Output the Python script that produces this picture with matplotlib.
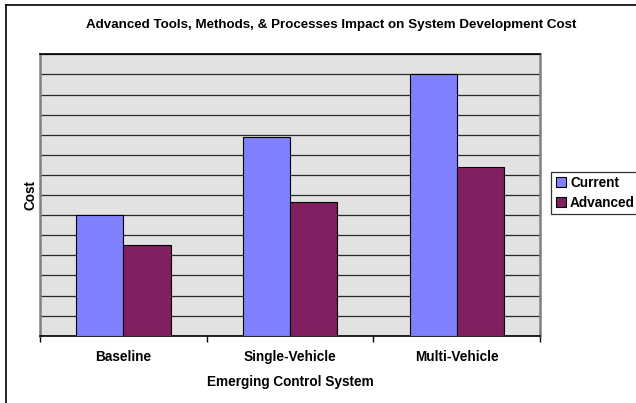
import numpy as np
import matplotlib
matplotlib.use("Agg")
import matplotlib.pyplot as plt
from matplotlib.lines import Line2D

plt.rcParams['font.family'] = ['Liberation Sans', 'DejaVu Sans']

categories = ["Baseline", "Single-Vehicle", "Multi-Vehicle"]
current = [6.0, 9.9, 13.0]
advanced = [4.5, 6.67, 8.4]
series_names = ["Current", "Advanced"]
colors = ["#8080ff", "#802060"]

W, H = 636, 403
fig = plt.figure(figsize=(W / 100, H / 100), dpi=100)
ax = fig.add_axes([40 / W, (H - 335.7) / H, 500 / W, 281.4 / H])

x = np.arange(len(categories))
width = 0.283
ax.bar(x - width / 2, current, width, color=colors[0], edgecolor="black", linewidth=0.8, zorder=3)
ax.bar(x + width / 2, advanced, width, color=colors[1], edgecolor="black", linewidth=0.8, zorder=3)

ax.set_xlim(-0.5, 2.5)
ax.set_ylim(0, 14)
ax.set_facecolor("#e2e2e2")
ax.set_yticks(np.arange(0, 15, 1))
ax.yaxis.grid(True, color="#2a2a2a", linewidth=0.9, zorder=1)
ax.tick_params(axis="y", left=False, labelleft=False)

# category boundaries as ticks, labels in the middle
ax.set_xticks([-0.5, 0.5, 1.5, 2.5])
ax.set_xticklabels([])
ax.set_xticks(x, minor=True)
ax.set_xticklabels(categories, minor=True, fontsize=9.8, fontweight="bold")
ax.tick_params(axis="x", which="major", direction="out", length=4, width=1, color="black")
ax.tick_params(axis="x", which="minor", length=0, pad=10)

for side in ["left", "right"]:
    ax.spines[side].set_color("#808080")
    ax.spines[side].set_linewidth(1.8)
ax.spines["top"].set_linewidth(1.2)
ax.spines["bottom"].set_linewidth(1.2)

ax.set_xlabel("Emerging Control System", fontsize=9.8, fontweight="bold", labelpad=8)
ax.set_ylabel("Cost", fontsize=9.8, fontweight="bold", labelpad=2)

fig.text(331 / W, 1 - 25 / H, "Advanced Tools, Methods, & Processes Impact on System Development Cost",
         ha="center", va="center", fontsize=9.6, fontweight="bold")

handles = [Line2D([], [], marker="s", linestyle="none", markersize=6.5,
                  markerfacecolor=c, markeredgecolor="black", markeredgewidth=0.8) for c in colors]
leg = fig.legend(handles, series_names, loc="upper left", bbox_to_anchor=(551 / W, 1 - 172 / H),
                 prop={"size": 9.8, "weight": "bold"}, frameon=True, fancybox=False,
                 handlelength=0.8, handletextpad=0.3, borderpad=0.3, labelspacing=0.45,
                 borderaxespad=0)
leg.get_frame().set_edgecolor("black")
leg.get_frame().set_linewidth(0.9)

# outer chart border (only top and left visible in the crop)
fig.add_artist(Line2D([5.5 / W, 5.5 / W], [0, 1 - 4.5 / H], color="black", linewidth=1.2))
fig.add_artist(Line2D([5.5 / W, 1], [1 - 4.5 / H, 1 - 4.5 / H], color="black", linewidth=1.2))

fig.savefig("out.png", dpi=100)
